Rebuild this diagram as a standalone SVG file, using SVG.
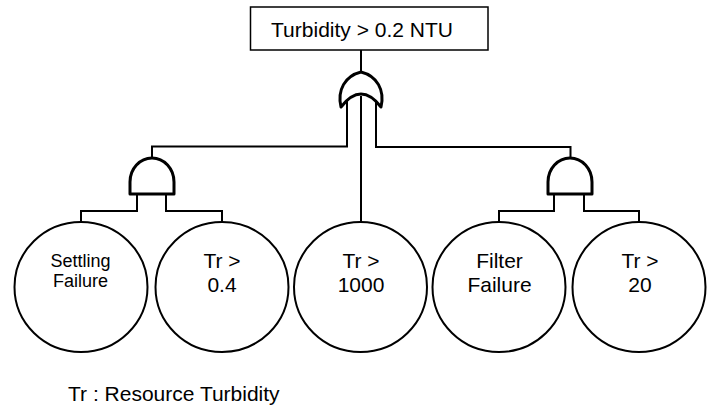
<svg xmlns="http://www.w3.org/2000/svg" width="714" height="407" viewBox="0 0 714 407">
<style>
.ln{fill:none;stroke:#000;stroke-width:2}
.gate{fill:#fff;stroke:#000;stroke-width:3;stroke-linejoin:round}
.ev{fill:#fff;stroke:#000;stroke-width:2}
.t{font-family:"Liberation Sans",Arial,sans-serif;font-size:21px;fill:#000;text-anchor:middle}
.s{font-size:18px}
</style>
<rect width="714" height="407" fill="#fff"/>
<g id="connectors">
<path class="ln" d="M361,50 V74"/>
<path class="ln" d="M361,96 V222"/>
<path class="ln" d="M347,98 V146.5 H152 V160"/>
<path class="ln" d="M376,98 V147 H570.5 V160"/>
<path class="ln" d="M137,194 V211 H81 V222"/>
<path class="ln" d="M166,194 V211 H222 V222"/>
<path class="ln" d="M554,194 V211 H499 V222"/>
<path class="ln" d="M584,194 V211 H639 V222"/>
</g>
<g id="top">
<rect x="250.5" y="7" width="237.5" height="43" fill="#fff" stroke="#000" stroke-width="1.5"/>
<text class="t" x="362" y="36.5">Turbidity &gt; 0.2 NTU</text>
</g>
<g id="or-gate">
<path class="gate" d="M341,107 C337,90 345,76 361,72 C377,76 385,90 381,107 Q361,81 341,107 Z"/>
</g>
<g id="and-left">
<path class="gate" d="M130,194 L130,182 A22,24 0 0 1 174,182 L174,194 Z"/>
</g>
<g id="and-right">
<path class="gate" d="M548,194 L548,182 A22,24 0 0 1 592,182 L592,194 Z"/>
</g>
<g id="settling">
<ellipse class="ev" cx="81" cy="287" rx="66.5" ry="65"/>
<text class="t s" x="80.5" y="266.7">Settling</text>
<text class="t s" x="80.5" y="287.3">Failure</text>
</g>
<g id="tr04">
<ellipse class="ev" cx="222" cy="287" rx="66.5" ry="65"/>
<text class="t" x="222" y="268">Tr &gt;</text>
<text class="t" x="222" y="291.7">0.4</text>
</g>
<g id="tr1000">
<ellipse class="ev" cx="360.5" cy="287" rx="66.5" ry="65"/>
<text class="t" x="361" y="268">Tr &gt;</text>
<text class="t" x="361" y="291.7">1000</text>
</g>
<g id="filter">
<ellipse class="ev" cx="499" cy="287" rx="66.5" ry="65"/>
<text class="t" x="499.5" y="268">Filter</text>
<text class="t" x="499.5" y="291.7">Failure</text>
</g>
<g id="tr20">
<ellipse class="ev" cx="639" cy="287" rx="66.5" ry="65"/>
<text class="t" x="640" y="268">Tr &gt;</text>
<text class="t" x="640" y="291.7">20</text>
</g>
<g id="legend">
<text class="t" x="68" y="401" style="text-anchor:start">Tr : Resource Turbidity</text>
</g>
</svg>
